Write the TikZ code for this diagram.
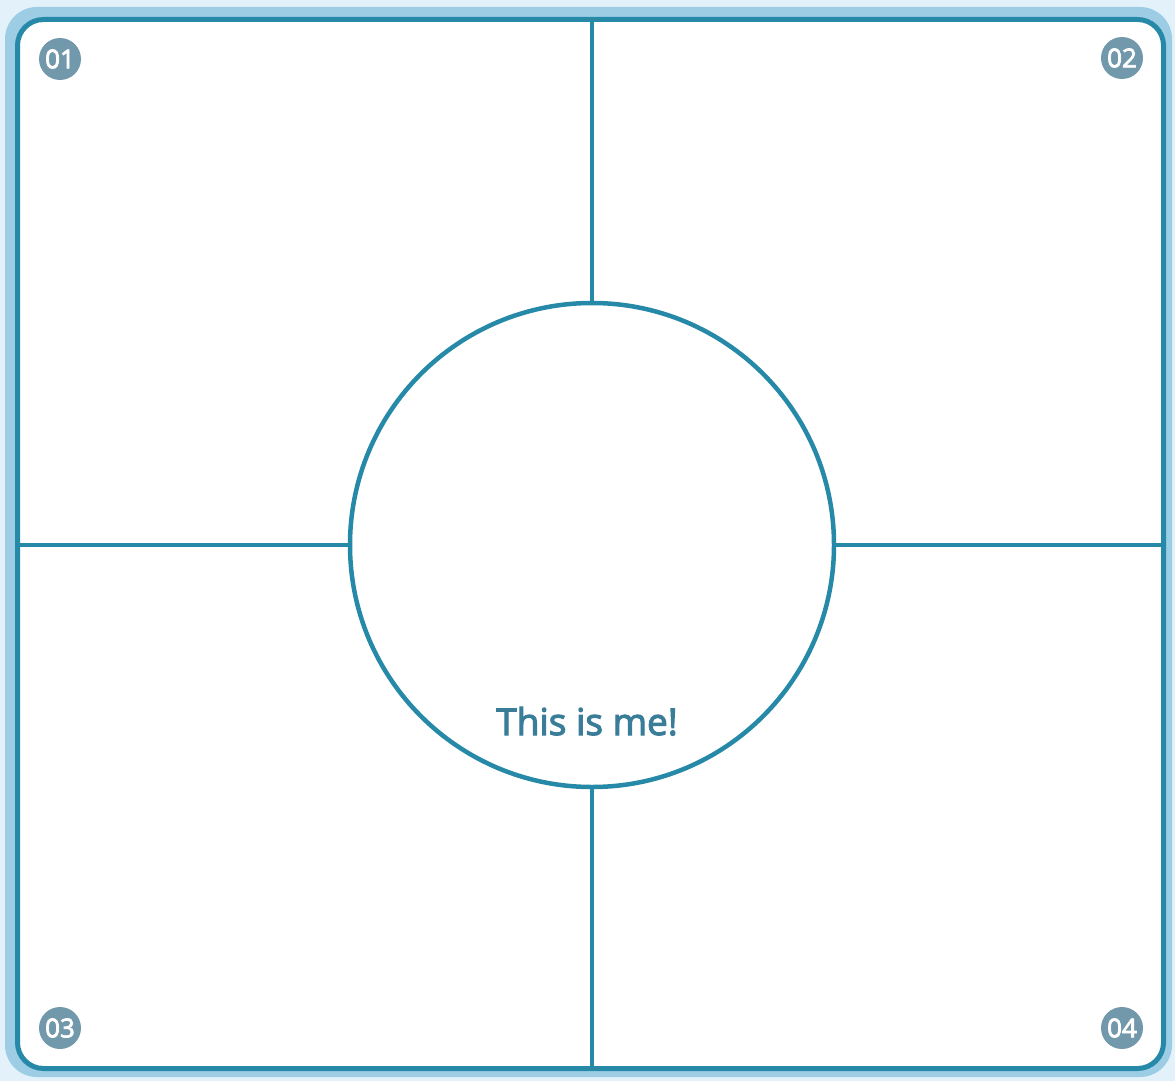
\documentclass[tikz,border=0pt]{standalone}
\usepackage{fontspec}
\setmainfont{Open Sans}
\newfontfamily\semibold{Open Sans}[FakeBold=3]
\definecolor{bgblue}{HTML}{E3F2FA}
\definecolor{bandblue}{HTML}{9DCDE5}
\definecolor{teal}{HTML}{2789A8}
\definecolor{badge}{HTML}{7298AB}
\definecolor{txtblue}{HTML}{3A7D98}
\begin{document}
\begin{tikzpicture}[x=1pt,y=-1pt,
  frameline/.style={draw=teal,line width=4.5pt},
  badgenode/.style={circle,fill=badge,minimum size=42pt,inner sep=0pt,text=white,font=\semibold\fontsize{26}{26}\selectfont},
  ]
\fill[bgblue] (0,0) rectangle (1175,1081);
\useasboundingbox (0,0) rectangle (1175,1081);
\fill[bandblue,rounded corners=32pt] (5,7) rectangle (1172,1077);
\filldraw[fill=white,draw=teal,line width=5pt,rounded corners=26pt] (17.5,19.5) rectangle (1163.5,1068.5);
\node[circle,draw=teal,line width=4.5pt,minimum size=484pt,inner sep=0pt] (me) at (592,545) {};
\coordinate (top) at (592,19.5);
\coordinate (bot) at (592,1068.5);
\coordinate (lft) at (17.5,545);
\coordinate (rgt) at (1163.5,545);
\draw[frameline] (top) -- (me.north);
\draw[frameline] (me.south) -- (bot);
\draw[frameline] (lft) -- (me.west);
\draw[frameline] (me.east) -- (rgt);
\node[text=txtblue,font=\semibold\fontsize{37}{37}\selectfont,anchor=base] (label) at (587,735) {This is me!};
\node[badgenode] (b1) at (60,59) {01};
\node[badgenode] (b2) at (1122,58) {02};
\node[badgenode] (b3) at (60,1028) {03};
\node[badgenode] (b4) at (1122,1028) {04};
\end{tikzpicture}
\end{document}
